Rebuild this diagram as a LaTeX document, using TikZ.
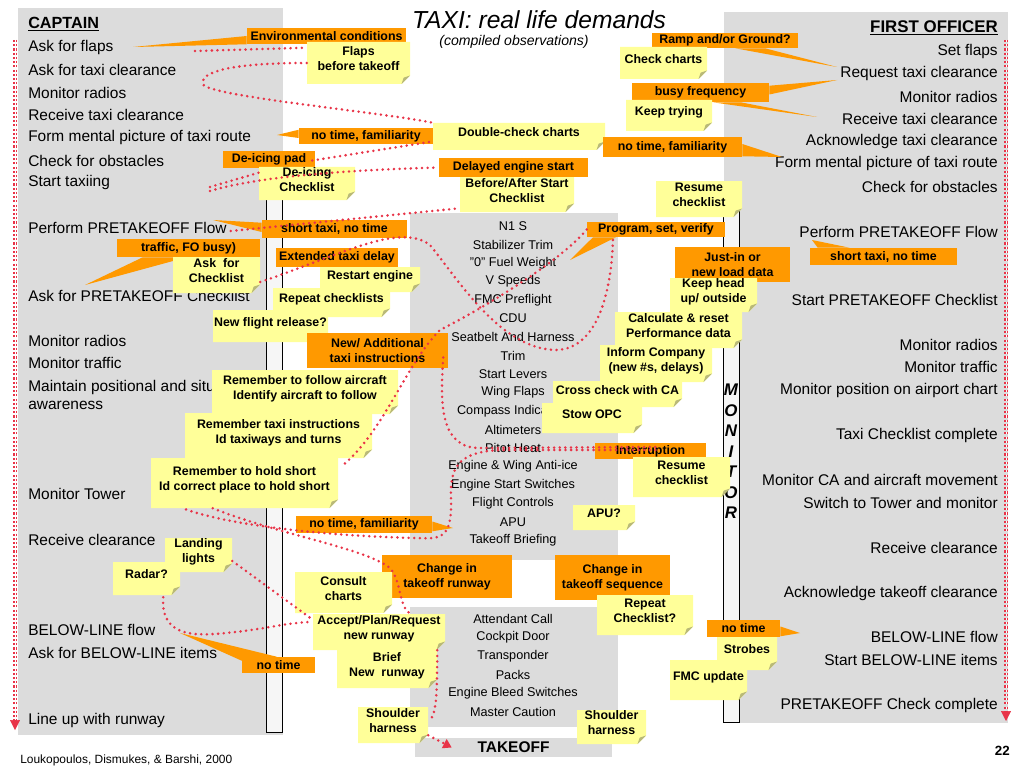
\documentclass[tikz,border=0pt]{standalone}
\usepackage{fontspec}
\setmainfont{Liberation Sans}
\usetikzlibrary{calc,arrows.meta}

\definecolor{panelgray}{RGB}{220,220,220}
\definecolor{stripfill}{RGB}{246,246,246}
\definecolor{noteorange}{RGB}{255,153,0}
\definecolor{noteyellow}{RGB}{255,255,153}
\definecolor{foldshade}{RGB}{185,185,120}
\definecolor{dotred}{RGB}{232,52,72}

\newcommand\notesize{\fontsize{8.8}{10.5}\selectfont\bfseries}
\newcommand\rolesize{\fontsize{11}{13}\selectfont}
\newcommand\chksize{\fontsize{9}{11}\selectfont}

\tikzset{
  pxbox/.style n args={4}{at={({(#1+#3)/2},{(#2+#4)/2})},
    minimum width={(#3-#1)*0.025cm}, minimum height={(#4-#2)*0.025cm}},
  panel/.style={fill=panelgray, inner sep=0pt},
  stripbox/.style={fill=stripfill, draw=black, line width=0.7pt, inner sep=0pt},
  onote/.style={fill=noteorange, inner sep=0pt, font=\notesize, align=center},
  ynote/.style={inner sep=0pt, font=\notesize, align=center, text depth=6pt,
    path picture={
      \fill[noteyellow] (path picture bounding box.north west)
        -- (path picture bounding box.north east)
        -- ([yshift=6pt]path picture bounding box.south east)
        -- ([xshift=-6pt]path picture bounding box.south east)
        -- (path picture bounding box.south west) -- cycle;
      \fill[foldshade] ([yshift=6pt]path picture bounding box.south east)
        -- ([xshift=-6pt]path picture bounding box.south east)
        -- ([xshift=-4.5pt,yshift=4.5pt]path picture bounding box.south east) -- cycle;}},
  captext/.style={anchor=west, font=\rolesize, inner sep=0pt},
  fotext/.style={anchor=east, font=\rolesize, inner sep=0pt},
  chktext/.style={font=\chksize, inner sep=0pt},
  reddots/.style={dotred, line width=2pt, dash pattern=on 0pt off 4pt, line cap=round},
  sideline/.style={dotred, line width=0.8pt, double=white, double distance=0.6pt, dash pattern=on 1.5pt off 1.5pt},
}

\begin{document}
\begin{tikzpicture}[x=0.025cm, y=-0.025cm]
    \useasboundingbox (0,0) rectangle (1024,768);
    \node[panel, pxbox={18}{8}{283}{735}] (cappanel) {};
    \node[panel, pxbox={724}{12}{1008}{723}] (fopanel) {};
    \node[panel, pxbox={410}{213}{618}{560}] (chkpanel) {};
    \node[panel, pxbox={410}{607}{618}{727}] (blpanel) {};
    \node[panel, pxbox={415}{738}{612}{757}, font=\fontsize{11}{13}\selectfont\bfseries] (takeoff) {TAKEOFF};
    \node[stripbox, pxbox={266}{190}{282}{732}] (capstrip) {};
    \node[stripbox, pxbox={723}{181}{739}{722}] (fostrip) {};

    \node[font=\fontsize{17.5}{20}\selectfont\itshape, inner sep=0pt] (title) at (539,20) {TAXI: real life demands};
    \node[font=\fontsize{10}{12}\selectfont\itshape, inner sep=0pt] (subtitle) at (514,42) {(compiled observations)};
    \node[anchor=west, font=\fontsize{8.5}{10}\selectfont, inner sep=0pt] (source) at (20,760) {Loukopoulos, Dismukes, \& Barshi, 2000};
    \node[anchor=east, font=\fontsize{9.5}{11}\selectfont\bfseries, inner sep=0pt] (pagenum) at (1010,751) {22};

    \node[captext, font=\fontsize{11.5}{13}\selectfont\bfseries] (captain) at (28,24) {\underline{CAPTAIN}};
    \foreach \y/\t [count=\i] in {48/Ask for flaps, 70/Ask for taxi clearance, 93/Monitor radios,
      115/Receive taxi clearance, 138/Form mental picture of taxi route, 161/Check for obstacles,
      183/Start taxiing, 228/Perform PRETAKEOFF Flow, 296/Ask for PRETAKEOFF Checklist,
      341/Monitor radios, 363/Monitor traffic, 494/Monitor Tower, 540/Receive clearance,
      630/BELOW-LINE flow, 653/Ask for BELOW-LINE items, 720/Line up with runway}
      \node[captext] (cap\i) at (28,\y) {\t};
    \node[captext, align=left, font=\fontsize{11}{12.8}\selectfont] (capaware) at (28,395) {Maintain positional and situational\\awareness};

    \node[fotext, font=\fontsize{12}{14}\selectfont\bfseries] (firstoff) at (998,28) {\underline{FIRST OFFICER}};
    \foreach \y/\t [count=\i] in {52/Set flaps, 74/Request taxi clearance, 97/Monitor radios,
      119/Receive taxi clearance, 142/Acknowledge taxi clearance, 164/Form mental picture of taxi route,
      187/Check for obstacles, 232/Perform PRETAKEOFF Flow, 300/Start PRETAKEOFF Checklist,
      345/Monitor radios, 367/Monitor traffic, 390/Monitor position on airport chart,
      435/Taxi Checklist complete, 480/Monitor CA and aircraft movement, 503/Switch to Tower and monitor,
      548/Receive clearance, 593/Acknowledge takeoff clearance, 637/BELOW-LINE flow,
      660/Start BELOW-LINE items, 705/PRETAKEOFF Check complete}
      \node[fotext] (fo\i) at (998,\y) {\t};

    \foreach \t [count=\i] in {N1 S, Stabilizer Trim, "0" Fuel Weight, V Speeds, FMC Preflight, CDU,
      Seatbelt And Harness, Trim, Start Levers, Wing Flaps, Compass Indicators, Altimeters, Pitot Heat,
      Engine \& Wing Anti-ice, Engine Start Switches, Flight Controls, APU, Takeoff Briefing}
      \node[chktext] (chk\i) at (513,{226+18.5*(\i-1)}) {\t};
    \foreach \t [count=\i] in {Attendant Call, Cockpit Door, Transponder, Packs, Engine Bleed Switches, Master Caution}
      \node[chktext] (bl\i) at (513,{619+18.5*(\i-1)}) {\t};

    \foreach \ltr [count=\i] in {M,O,N,I,T,O,R}
      \node[font=\fontsize{12}{14}\selectfont\bfseries\itshape, inner sep=0pt] (mon\i) at (731,{390+20.5*(\i-1)}) {\ltr};

    \node[onote, pxbox={247}{28}{406}{44}] (envcond) {Environmental conditions};
    \coordinate (envtip) at (133,47);
    \fill[noteorange] (envcond.west) -- (envtip) -- (envcond.south west) -- cycle;
    \node[ynote, pxbox={307}{42}{410}{84}] (flapsnote) {Flaps\\before takeoff};

    \node[onote, pxbox={652}{33}{798}{48}] (rampgnd) {Ramp and/or Ground?};
    \coordinate (ramptip) at (837,67);
    \fill[noteorange] ($(rampgnd.south)+(10,0)$) -- (ramptip) -- ($(rampgnd.south)+(40,0)$) -- cycle;
    \node[ynote, pxbox={620}{47}{707}{79}] (checkcharts) {Check charts};
    \node[onote, pxbox={632}{83}{769}{102}] (busyfreq) {busy frequency};
    \coordinate (busytipa) at (837,80);
    \coordinate (busytipb) at (817,117);
    \fill[noteorange] ($(busyfreq.north east)+(0,3)$) -- (busytipa) -- ($(busyfreq.east)+(0,2)$) -- cycle;
    \fill[noteorange] ($(busyfreq.south)+(12,0)$) -- (busytipb) -- ($(busyfreq.south)+(40,0)$) -- cycle;
    \node[ynote, pxbox={626}{100}{712}{131}] (keeptrying) {Keep trying};

    \node[onote, pxbox={299}{128}{433}{144}] (notimefama) {no time, familiarity};
    \coordinate (famatip) at (277,135);
    \fill[noteorange] ($(notimefama.north west)+(0,2)$) -- (famatip) -- ($(notimefama.west)+(0,2)$) -- cycle;
    \node[ynote, pxbox={433}{123}{605}{150}] (dblcheck) {Double-check charts};
    \node[onote, pxbox={603}{137}{742}{157}] (notimefamb) {no time, familiarity};
    \coordinate (fambtip) at (782,157);
    \fill[noteorange] ($(notimefamb.east)+(0,-3)$) -- (fambtip) -- ($(notimefamb.south east)+(0,-1)$) -- cycle;

    \node[onote, pxbox={223}{151}{315}{168}] (deicepad) {De-icing pad};
    \node[ynote, pxbox={259}{167}{355}{200}] (deicechk) {De-icing\\Checklist};
    \node[onote, pxbox={439}{158}{588}{177}] (delayed) {Delayed engine start};
    \node[ynote, pxbox={460}{177}{574}{212}] (beforeafter) {Before/After Start\\Checklist};
    \node[ynote, pxbox={656}{181}{742}{217}] (resumea) {Resume\\checklist};

    \node[onote, pxbox={262}{220}{407}{238}] (shorttaxia) {short taxi, no time};
    \coordinate (shortatip) at (213,220);
    \fill[noteorange] ($(shorttaxia.north west)+(0,3)$) -- (shortatip) -- ($(shorttaxia.west)+(0,3)$) -- cycle;
    \node[onote, pxbox={117}{239}{260}{257}] (fobusy) {traffic, FO busy)};
    \coordinate (fobusytip) at (85,285);
    \fill[noteorange] ($(fobusy.south west)+(26,0)$) -- (fobusytip) -- ($(fobusy.south west)+(70,0)$) -- cycle;
    \node[ynote, pxbox={173}{257}{260}{293}] (askchk) {Ask~~for\\Checklist};
    \node[onote, pxbox={276}{248}{398}{267}] (extdelay) {Extended taxi delay};
    \node[ynote, pxbox={320}{267}{420}{292}] (restart) {Restart engine};
    \node[ynote, pxbox={273}{288}{390}{317}] (repeatchk) {Repeat checklists};
    \node[ynote, pxbox={213}{310}{328}{342}] (newrelease) {New flight release?};
    \node[onote, pxbox={307}{333}{448}{368}] (newinstr) {New/ Additional\\taxi instructions};
    \node[ynote, pxbox={212}{370}{398}{414}] (followac) {Remember to follow aircraft\\Identify aircraft to follow};
    \node[ynote, pxbox={185}{413}{372}{458}] (remtaxi) {Remember taxi instructions\\Id taxiways and turns};
    \node[ynote, pxbox={151}{458}{338}{508}] (holdshort) {Remember to hold short\\Id correct place to hold short};

    \node[onote, pxbox={587}{222}{725}{237}] (progset) {Program, set, verify};
    \coordinate (progtip) at (570,260);
    \fill[noteorange] ($(progset.south)+(-63,0)$) -- (progtip) -- ($(progset.south)+(-40,0)$) -- cycle;
    \node[onote, pxbox={810}{248}{957}{265}] (shorttaxib) {short taxi, no time};
    \coordinate (shortbtip) at (812,240);
    \fill[noteorange] ($(shorttaxib.north west)+(8,0)$) -- (shortbtip) -- ($(shorttaxib.north west)+(40,0)$) -- cycle;
    \node[onote, pxbox={675}{247}{790}{282}] (loaddata) {Just-in or\\new load data};
    \node[ynote, pxbox={670}{278}{757}{312}] (keephead) {Keep head\\up/ outside};
    \node[ynote, pxbox={615}{312}{742}{348}] (perfdata) {Calculate \& reset\\Performance data};
    \node[ynote, pxbox={600}{345}{712}{382}] (informco) {Inform Company\\(new \#s, delays)};
    \node[ynote, pxbox={553}{381}{682}{407}] (crosschk) {Cross check with CA};
    \node[ynote, pxbox={542}{403}{642}{433}] (stowopc) {Stow OPC};
    \node[onote, pxbox={595}{443}{706}{459}] (interrupt) {Interruption};
    \node[ynote, pxbox={633}{457}{730}{497}] (resumeb) {Resume\\checklist};
    \node[ynote, pxbox={573}{505}{635}{530}] (apuq) {APU?};

    \node[onote, pxbox={296}{516}{432}{533}] (notimefamc) {no time, familiarity};
    \coordinate (famctip) at (453,528);
    \fill[noteorange] ($(notimefamc.east)+(0,-3)$) -- (famctip) -- ($(notimefamc.south east)+(0,-2)$) -- cycle;
    \node[ynote, pxbox={165}{538}{232}{572}] (landlights) {Landing\\lights};
    \node[ynote, pxbox={113}{562}{180}{595}] (radarq) {Radar?};
    \node[onote, pxbox={382}{555}{512}{598}] (chrunway) {Change in\\takeoff runway};
    \node[ynote, pxbox={295}{572}{392}{613}] (consult) {Consult\\charts};
    \node[onote, pxbox={555}{555}{670}{600}] (chsequence) {Change in\\takeoff sequence};
    \node[ynote, pxbox={597}{595}{693}{635}] (repeatq) {Repeat\\Checklist?};
    \node[ynote, pxbox={313}{614}{445}{650}] (acceptrwy) {Accept/Plan/Request\\new runway};
    \node[ynote, pxbox={337}{650}{437}{688}] (briefrwy) {Brief\\New~~runway};
    \node[onote, pxbox={242}{657}{315}{673}] (notimea) {no time};
    \coordinate (notimeatip) at (180,633);
    \fill[noteorange] ($(notimea.north west)+(0,4)$) -- (notimeatip) -- ($(notimea.north west)+(35,0)$) -- cycle;
    \node[ynote, pxbox={358}{707}{428}{743}] (shouldera) {Shoulder\\harness};
    \node[ynote, pxbox={577}{710}{646}{744}] (shoulderb) {Shoulder\\harness};
    \node[onote, pxbox={707}{620}{780}{637}] (notimeb) {no time};
    \coordinate (notimebtip) at (800,633);
    \fill[noteorange] ($(notimeb.east)+(0,-2)$) -- (notimebtip) -- ($(notimeb.south east)+(0,-1)$) -- cycle;
    \node[ynote, pxbox={717}{637}{777}{670}] (strobes) {Strobes};
    \node[ynote, pxbox={670}{660}{747}{700}] (fmcupdate) {FMC update};

    \coordinate (flapsdot) at (195,51);
    \coordinate (taxidota) at (210,187);
    \coordinate (taxidotb) at (210,191);
    \draw[reddots] (flapsdot) -- ($(flapsnote.north west)+(0,6)$);
    \draw[reddots] (flapsnote.west) .. controls (230,63) and (200,72) .. (203,84)
      .. controls (206,96) and (380,112) .. (dblcheck.north west);
    \draw[reddots] ($(deicepad.east)+(-3,1)$) -- ($(dblcheck.west)+(0,5)$);
    \draw[reddots] (taxidota) -- ($(deicechk.north west)+(0,6)$);
    \draw[reddots] (taxidotb) .. controls (260,176) and (350,170) .. (delayed.west);
    \draw[reddots] ($(cap8.east)+(4,3)$) -- ($(beforeafter.south west)+(0,-4)$);
    \draw[reddots] ($(askchk.east)+(0,7)$) .. controls (340,255) and (400,222) .. (430,245)
      .. controls (460,282) and (500,348) .. (555,350)
      .. controls (600,350) and (612,285) .. ($(progset.south)+(-43,0)$);
    \draw[reddots] (progset.west) .. controls (560,262) and (480,310) .. (440,330)
      .. controls (405,365) and (385,430) .. ($(holdshort.north east)+(4,8)$);
    \draw[reddots] ($(newinstr.east)+(-5,7)$) .. controls (440,405) and (440,448) .. (480,448)
      -- ($(interrupt.center)+(5,-4)$);
    \draw[reddots] ($(interrupt.center)+(5,-1)$) -- (500,450) .. controls (455,452) and (450,470) .. (451,500)
      .. controls (452,540) and (440,539) .. (415,538)
      .. controls (330,536) and (230,526) .. ($(holdshort.south west)+(32,0)$);
    \draw[reddots] ($(holdshort.south west)+(62,0)$) .. controls (280,535) and (365,548) .. (390,568)
      .. controls (402,582) and (398,605) .. ($(acceptrwy.north)+(31,0)$);
    \draw[reddots] ($(landlights.east)+(0,6)$) -- ($(acceptrwy.north west)+(0,6)$);
    \draw[reddots] ($(radarq.south east)+(-17,2)$) .. controls (160,640) and (200,636) .. (235,632)
      .. controls (265,629) and (290,622) .. ($(acceptrwy.west)+(0,-10)$);
    \draw[reddots] ($(acceptrwy.south east)+(-8,0)$) .. controls (437,690) and (437,708) .. ($(shouldera.north east)+(3,12)$);
    \draw[reddots, -{Triangle[length=6pt,width=7pt]}] ($(shouldera.south east)+(0,-8)$) -- ($(takeoff.west)+(37,0)$);

    \coordinate (captop) at (15,40);
    \coordinate (capbot) at (15,722);
    \coordinate (fotop) at (1006,40);
    \coordinate (fobot) at (1006,713);
    \draw[sideline] (captop) -- (capbot);
    \draw[dotred, -{Triangle[length=7pt,width=7pt]}] ($(capbot)+(0,-1)$) -- ($(capbot)+(0,8)$);
    \draw[sideline] (fotop) -- (fobot);
    \draw[dotred, -{Triangle[length=7pt,width=7pt]}] ($(fobot)+(0,-1)$) -- ($(fobot)+(0,8)$);
\end{tikzpicture}
\end{document}
